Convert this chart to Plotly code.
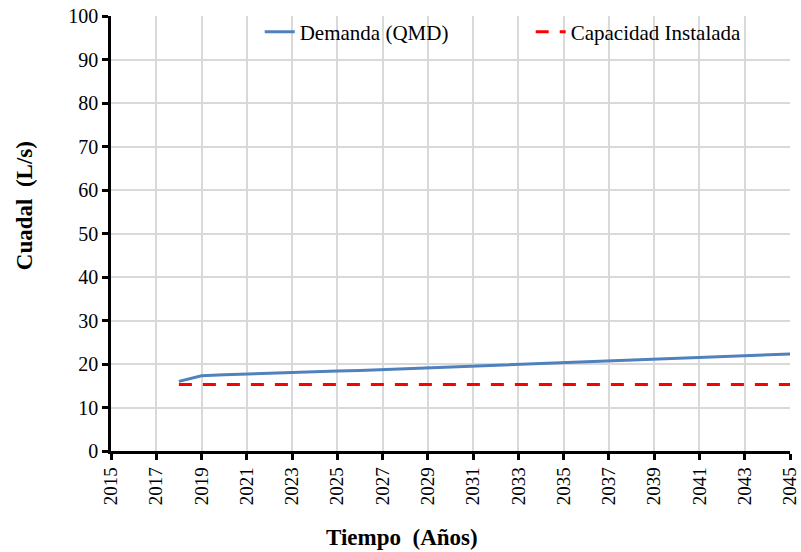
import plotly.graph_objects as go

years = list(range(2018, 2046))
demanda = [16.0, 17.3, 17.5, 17.7, 17.9, 18.0, 18.2, 18.4, 18.5, 18.7, 18.9, 19.1, 19.3, 19.5,
           19.7, 19.9, 20.1, 20.3, 20.5, 20.7, 20.9, 21.1, 21.3, 21.5, 21.7, 21.9, 22.1, 22.3]
capacidad = [15.3] * len(years)
x_ticks = list(range(2015, 2046, 2))
y_ticks = list(range(0, 101, 10))
x_title = "Tiempo  (Años)"
y_title = "Cuadal  (L/s)"

FAM = "Liberation Serif"
fig = go.Figure()
fig.add_trace(go.Scatter(x=years, y=demanda, mode="lines", name="Demanda (QMD)",
                         line=dict(color="#4F81BD", width=3)))
fig.add_trace(go.Scatter(x=years, y=capacidad, mode="lines", name="Capacidad Instalada",
                         line=dict(color="#FF0000", width=3, dash="13px,11px")))

fig.update_layout(
    width=801, height=552,
    margin=dict(l=111, r=11, t=16, b=101, autoexpand=False),
    paper_bgcolor="white", plot_bgcolor="white",
    font=dict(size=18, family=FAM, color="black"),
    legend=dict(orientation="h", x=0.219, y=1.01, xanchor="left", yanchor="top",
                bgcolor="rgba(0,0,0,0)", font=dict(size=21, family=FAM, color="black"),
                entrywidth=226, entrywidthmode="pixels"),
    showlegend=True,
    annotations=[
        dict(text="<b>" + x_title + "</b>", xref="paper", yref="paper", x=0.4286, y=-0.198,
             xanchor="center", yanchor="middle", showarrow=False,
             font=dict(size=23, family=FAM, color="black")),
        dict(text="<b>" + y_title + "</b>", xref="paper", yref="paper", x=-0.128, y=0.563,
             xanchor="center", yanchor="middle", showarrow=False, textangle=-90,
             font=dict(size=23, family=FAM, color="black")),
    ],
)
common = dict(showgrid=True, gridcolor="#D9D9D9", gridwidth=1.5,
              showline=True, linecolor="black", linewidth=2.5, ticks="outside",
              tickcolor="black", tickwidth=2.5, ticklen=6, zeroline=False, automargin=False)
fig.update_xaxes(range=[2015, 2045], tickvals=x_ticks, ticktext=[str(t) for t in x_ticks],
                 tickangle=-90, tickfont=dict(size=19, family=FAM, color="black"), **common)
fig.update_yaxes(range=[0, 100], tickvals=y_ticks,
                 tickfont=dict(size=20, family=FAM, color="black"), **common)

fig.write_html("out.html", config={"displayModeBar": False},
               post_script="document.body.style.margin='0';")
